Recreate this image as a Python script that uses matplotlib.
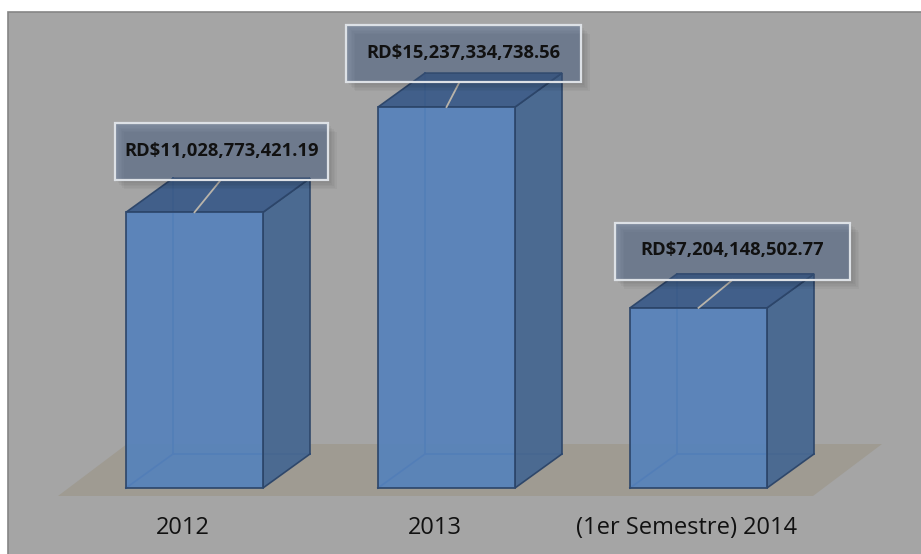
"""3D-style column chart: RD$ amounts per period."""
import matplotlib
matplotlib.use("Agg")
import matplotlib.pyplot as plt
from matplotlib.patches import Polygon, Rectangle

# data (values in RD$)
categories = ["2012", "2013", "(1er Semestre) 2014"]
values = [11028773421.19, 15237334738.56, 7204148502.77]
value_labels = ["RD$11,028,773,421.19", "RD$15,237,334,738.56", "RD$7,204,148,502.77"]

# style (pixel-ish sizes, converted to data units below)
BG = "#a5a5a5"
FLOOR = "#9f9b92"
FRONT = "#5682bb"
SIDE = "#486891"
TOP = "#3d5c89"
EDGE = "#2c4569"
PX_X = 1 / 252.0   # x data units per pixel
PX_Y = 1 / 25.0    # billions per pixel

fig = plt.figure(figsize=(9.21, 5.54), dpi=100)
fig.patch.set_facecolor("white")
ax = fig.add_axes([0, 0, 1, 1])
ax.set_axis_off()
ax.patch.set_alpha(0)
ax.set_xlim(-0.7718, 2.8829)
ax.set_ylim(-2.64, 19.52)
ax.add_patch(Rectangle((8 / 921, -0.01), 1, 1.01 - 12 / 554, transform=fig.transFigure,
                       facecolor=BG, edgecolor="#858585", lw=1.2, zorder=0))

w = 137 * PX_X
dx, dy = 47 * PX_X, 34 * PX_Y

# floor
fl, fr = -0.5417, 2.4544
fy0, fy1 = -8 * PX_Y, 44 * PX_Y
fdx = 69 * PX_X
ax.add_patch(Polygon([(fl, fy0), (fr, fy0), (fr + fdx, fy1), (fl + fdx, fy1)],
                     closed=True, facecolor=FLOOR, edgecolor="none", zorder=1))

for i, (v, lab) in enumerate(zip(values, value_labels)):
    h = v / 1e9
    x0, x1 = i - w / 2, i + w / 2
    # hidden back edges, seen through the translucent faces
    for xs, ys in [([x0 + dx, x0 + dx], [dy, h + dy]),
                   ([x0 + dx, x1 + dx], [dy, dy]),
                   ([x0, x0 + dx], [0, dy])]:
        ax.plot(xs, ys, color="#2f5890", lw=1.3, zorder=2)
    # faces
    ax.add_patch(Polygon([(x1, 0), (x1 + dx, dy), (x1 + dx, h + dy), (x1, h)],
                         closed=True, facecolor=SIDE, edgecolor=EDGE, lw=1.2,
                         alpha=0.96, zorder=3))
    ax.add_patch(Polygon([(x0, h), (x1, h), (x1 + dx, h + dy), (x0 + dx, h + dy)],
                         closed=True, facecolor=TOP, edgecolor=EDGE, lw=1.2,
                         alpha=0.96, zorder=3))
    ax.add_patch(Rectangle((x0, 0), w, h, facecolor=FRONT, edgecolor=EDGE, lw=1.3,
                           alpha=0.92, zorder=4))

    # category label
    ax.text(i - 11.5 * PX_X, -40 * PX_Y, categories[i], ha="center", va="center",
            fontsize=17, family="Open Sans", color="#111111", zorder=6)

# data labels in boxes
box_dx = [27, 17, 34]
box_gap = [32, 25, 28]
box_w = [213, 234, 235]
box_h = 57
lead_dx = [26, 13, 34]
for i, (v, lab) in enumerate(zip(values, value_labels)):
    h = v / 1e9
    cx = i + box_dx[i] * PX_X
    yb = h + box_gap[i] * PX_Y
    bw, bh = box_w[i] * PX_X, box_h * PX_Y
    for k in range(1, 7):
        ax.add_patch(Rectangle((cx - bw / 2 + k * 1.5 * PX_X, yb - k * 1.5 * PX_Y), bw, bh,
                               facecolor="black", edgecolor="none", alpha=0.03, zorder=7))
    ax.add_patch(Rectangle((cx - bw / 2, yb), bw, bh, facecolor="#4c6a98", alpha=0.4,
                           edgecolor="none", zorder=8))
    ax.add_patch(Rectangle((cx - bw / 2, yb), bw, bh, facecolor="none",
                           edgecolor="#dde1e6", lw=1.6, zorder=9))
    ax.plot([i, i + lead_dx[i] * PX_X], [h, yb], color="#b9b4aa", lw=1.3, zorder=6)
    ax.text(cx, yb + bh / 2 + 1 * PX_Y, lab, ha="center", va="center", fontsize=13.2,
            fontweight="bold", family="Open Sans", color="#111111", zorder=10)

fig.savefig("out.png", dpi=100)
